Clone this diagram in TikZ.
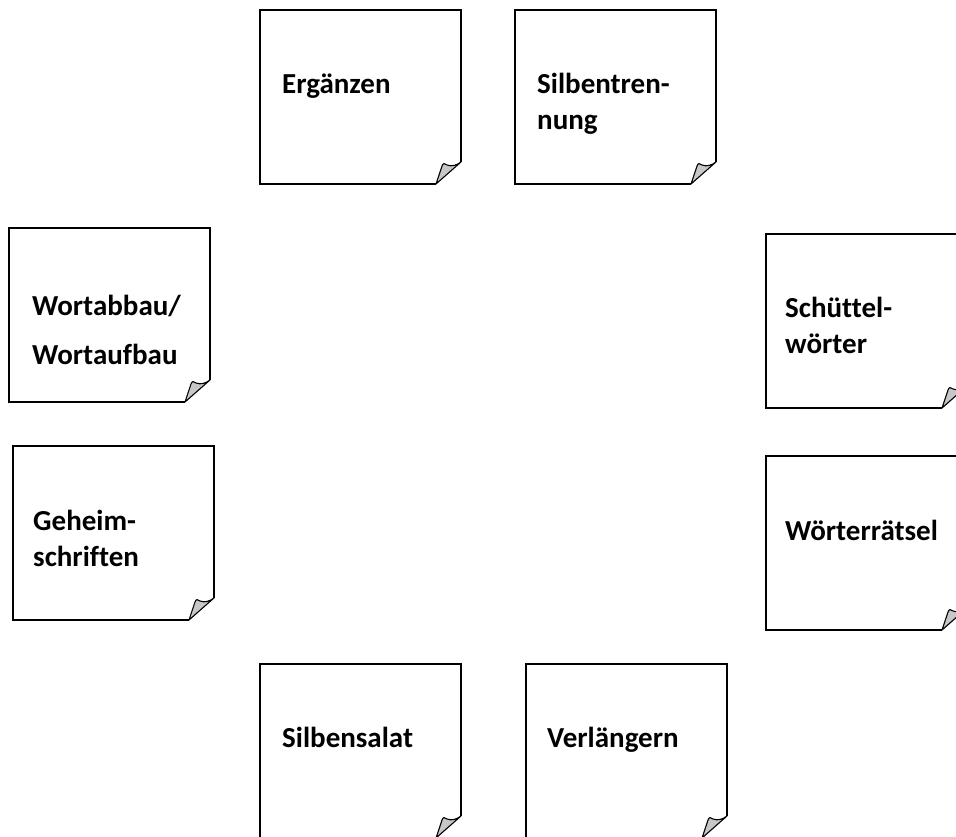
\documentclass[tikz,border=0pt]{standalone}
\usepackage{fontspec}
\setmainfont[Ligatures={NoCommon}]{Carlito}
\begin{document}
\begin{tikzpicture}[x=1pt,y=-1pt,
  notetext/.style={font=\bfseries\fontsize{29}{36}\selectfont, anchor=base west, align=left, inner sep=0pt},
  noteline/.style={draw=black, line width=1.4pt, line join=miter},
  foldfill/.style={fill=black!22, draw=black, line width=1.1pt, line join=round},
  pics/note/.style={code={
    \fill[white] (0,0) -- (201,0) -- (201,152) -- (176,174) -- (0,174) -- cycle;
    \draw[noteline] (176,174) -- (0,174) -- (0,0) -- (201,0) -- (201,152);
    \draw[foldfill] (176,174) -- (182,156) .. controls (183,153) and (185,153) .. (187,155)
       .. controls (192,157) and (197,155) .. (201,152) -- cycle;
  }}]
\useasboundingbox (0,0) rectangle (956,837);
\clip (0,0) rectangle (956,837);
\pic (n1) at (260,10) {note};
\pic (n2) at (515,10) {note};
\pic (n3) at (9,228) {note};
\pic (n4) at (766,234) {note};
\pic (n5) at (13,446) {note};
\pic (n6) at (766,456) {note};
\pic (n7) at (260,664) {note};
\pic (n8) at (526,664) {note};
\node[notetext] (t1) at (282,94) {Ergänzen};
\node[notetext] (t2) at (537,130) {Silbentren-\\nung};
\node[notetext] (t3) at (32,364) {Wortabbau/\\[13pt]Wortaufbau};
\node[notetext] (t4) at (785,353) {Schüttel-\\wörter};
\node[notetext] (t5) at (33,566) {Geheim-\\schriften};
\node[notetext] (t6) at (785,540) {Wörterrätsel};
\node[notetext] (t7) at (282,747) {Silbensalat};
\node[notetext] (t8) at (547,747) {Verlängern};
\end{tikzpicture}
\end{document}
